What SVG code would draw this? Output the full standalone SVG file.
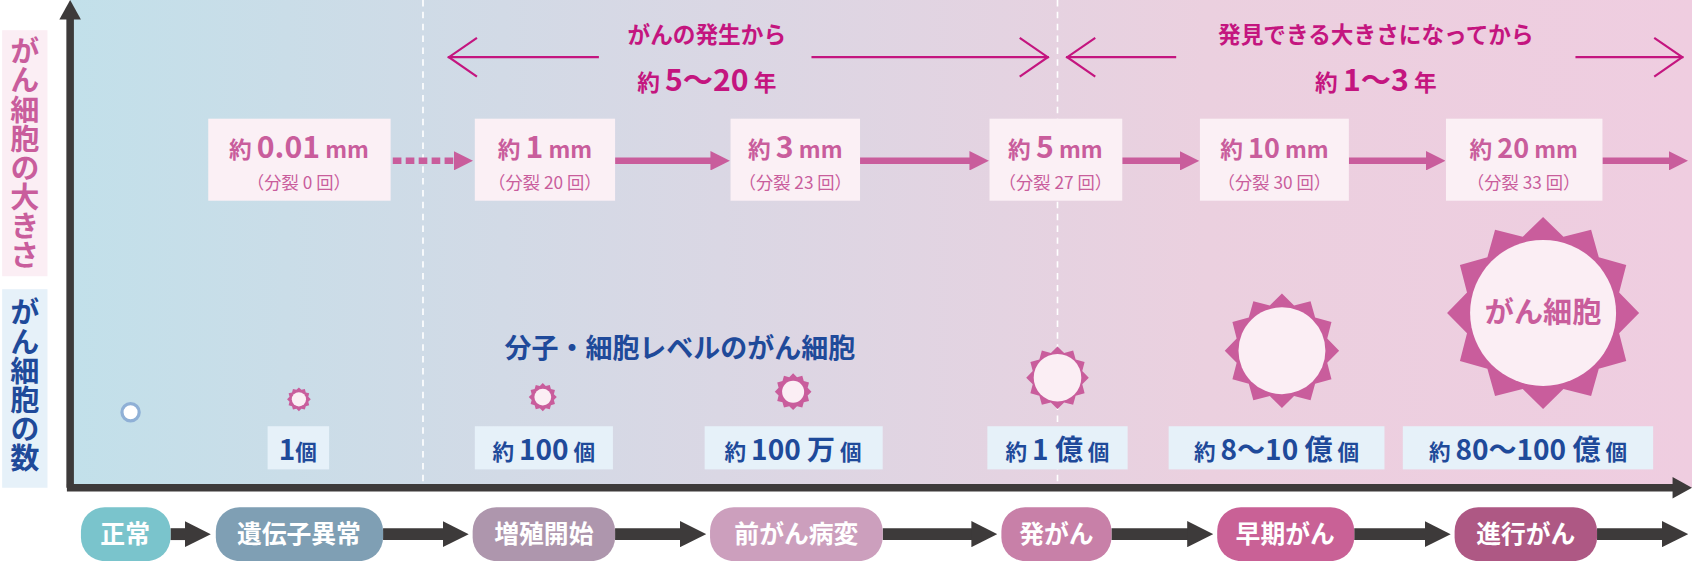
<svg xmlns="http://www.w3.org/2000/svg" width="1692" height="561" viewBox="0 0 1692 561">
<style>
text{font-family:"Noto Sans CJK JP","Liberation Serif",sans-serif;font-weight:bold}
.pk{fill:#c95d9c}.bl{fill:#1f4a9a}.mg{fill:#c4157f}
.sz{fill:#fbf0f5}.ct{fill:#e6f1f9}
.pill{rx:22px}
.pt{fill:#fff;font-size:23px;text-anchor:middle}
.sub{font-size:16px;font-weight:normal}
.ax{stroke:#3d3a3a;stroke-width:7;fill:none}
.flow{stroke:#3d3a3a;stroke-width:11;fill:none}
.szarr{stroke:#c95d9c;stroke-width:6;fill:none}
.top{stroke:#c4157f;stroke-width:2;fill:none}
</style>
<defs>
<linearGradient id="bg" x1="0" x2="1" y1="0" y2="0">
<stop offset="0" stop-color="#c2e0ea"/><stop offset="0.4" stop-color="#dad7e4"/><stop offset="0.7" stop-color="#ebd0df"/><stop offset="1" stop-color="#efcde0"/>
</linearGradient>
<polygon id="star" points="0,-1 .212,-.792 .5,-.866 .58,-.58 .866,-.5 .792,-.212 1,0 .792,.212 .866,.5 .58,.58 .5,.866 .212,.792 0,1 -.212,.792 -.5,.866 -.58,.58 -.866,.5 -.792,.212 -1,0 -.792,-.212 -.866,-.5 -.58,-.58 -.5,-.866 -.212,-.792"/>
<g id="sun"><use href="#star" fill="#c95d9c"/><circle r="0.76" fill="#fbeef4"/></g>
<g id="sunS"><use href="#star" fill="#c95d9c"/><circle r="0.6" fill="#fbeef4"/></g>
<marker id="ha" viewBox="0 0 10 10" refX="2" refY="5" markerWidth="3" markerHeight="3" orient="auto"><path d="M0,0L10,5L0,10z" fill="#c95d9c"/></marker>
<marker id="hd" viewBox="0 0 10 10" refX="2" refY="5" markerWidth="2.2" markerHeight="2.2" orient="auto"><path d="M0,0L10,5L0,10z" fill="#3d3a3a"/></marker>
<marker id="ho" viewBox="0 0 30 40" refX="29" refY="20" markerWidth="30" markerHeight="40" markerUnits="userSpaceOnUse" orient="auto-start-reverse"><path d="M2,2L28,20L2,38" fill="none" stroke="#c4157f" stroke-width="2"/></marker>
</defs>
<g transform="scale(1.07908)">
<rect x="65" y="0" width="1503" height="452" fill="url(#bg)"/>
<g stroke="#fff" stroke-width="1.5" stroke-dasharray="6 5"><line x1="392" y1="0" x2="392" y2="448"/><line x1="980" y1="0" x2="980" y2="448"/></g>
<g id="axes">
<line class="ax" x1="65" y1="452" x2="65" y2="16"/><path d="M55,18L65,0L75,18z" fill="#3d3a3a"/>
<line class="ax" x1="62" y1="452" x2="1552" y2="452"/><path d="M1550,442L1568,452L1550,462z" fill="#3d3a3a"/>
</g>
<g id="ylabels">
<rect x="2" y="28" width="42" height="228" fill="#fbeef4"/>
<text x="23" y="34" class="pk" font-size="27" style="writing-mode:vertical-rl">がん細胞の大きさ</text>
<rect x="2" y="268" width="42" height="184" fill="#e6f1f9"/>
<text x="23" y="276" class="bl" font-size="27" style="writing-mode:vertical-rl">がん細胞の数</text>
</g>
<g id="periods">
<line class="top" x1="415" y1="53" x2="555" y2="53" marker-start="url(#ho)"/>
<line class="top" x1="752" y1="53" x2="972" y2="53" marker-end="url(#ho)"/>
<text x="655" y="40" class="mg" font-size="21" text-anchor="middle">がんの発生から</text>
<text x="655" y="84" class="mg" font-size="21" text-anchor="middle">約 <tspan font-size="28">5～20</tspan> 年</text>
<line class="top" x1="988" y1="53" x2="1090" y2="53" marker-start="url(#ho)"/>
<line class="top" x1="1460" y1="53" x2="1560" y2="53" marker-end="url(#ho)"/>
<text x="1275" y="40" class="mg" font-size="21" text-anchor="middle">発見できる大きさになってから</text>
<text x="1275" y="84" class="mg" font-size="21" text-anchor="middle">約 <tspan font-size="28">1～3</tspan> 年</text>
</g>
<g id="connectors">
<line class="szarr" x1="364" y1="149" x2="424" y2="149" stroke-dasharray="8 4" stroke-width="8" marker-end="url(#ha)"/>
<line class="szarr" x1="570" y1="149" x2="662" y2="149" marker-end="url(#ha)"/>
<line class="szarr" x1="797" y1="149" x2="902" y2="149" marker-end="url(#ha)"/>
<line class="szarr" x1="1040" y1="149" x2="1097" y2="149" marker-end="url(#ha)"/>
<line class="szarr" x1="1250" y1="149" x2="1325" y2="149" marker-end="url(#ha)"/>
<line class="szarr" x1="1485" y1="149" x2="1550" y2="149" marker-end="url(#ha)"/>
<line class="flow" x1="158" y1="495" x2="176" y2="495" marker-end="url(#hd)"/>
<line class="flow" x1="355" y1="495" x2="415" y2="495" marker-end="url(#hd)"/>
<line class="flow" x1="570" y1="495" x2="635" y2="495" marker-end="url(#hd)"/>
<line class="flow" x1="818" y1="495" x2="905" y2="495" marker-end="url(#hd)"/>
<line class="flow" x1="1030" y1="495" x2="1105" y2="495" marker-end="url(#hd)"/>
<line class="flow" x1="1255" y1="495" x2="1325" y2="495" marker-end="url(#hd)"/>
<line class="flow" x1="1480" y1="495" x2="1545" y2="495" marker-end="url(#hd)"/>
</g>
<g id="sizes">
<g id="s1"><rect class="sz" x="193" y="110" width="169" height="76"/><text x="277" y="146" class="pk" text-anchor="middle" font-size="21">約 <tspan font-size="28">0.01</tspan> mm</text><text x="277" y="175" class="pk sub" text-anchor="middle">（分裂 0 回）</text></g>
<g id="s2"><rect class="sz" x="440" y="110" width="130" height="76"/><text x="505" y="146" class="pk" text-anchor="middle" font-size="21">約 <tspan font-size="28">1</tspan> mm</text><text x="505" y="175" class="pk sub" text-anchor="middle">（分裂 20 回）</text></g>
<g id="s3"><rect class="sz" x="677" y="110" width="120" height="76"/><text x="737" y="146" class="pk" text-anchor="middle" font-size="21">約 <tspan font-size="28">3</tspan> mm</text><text x="737" y="175" class="pk sub" text-anchor="middle">（分裂 23 回）</text></g>
<g id="s4"><rect class="sz" x="917" y="110" width="123" height="76"/><text x="978" y="146" class="pk" text-anchor="middle" font-size="21">約 <tspan font-size="28">5</tspan> mm</text><text x="978" y="175" class="pk sub" text-anchor="middle">（分裂 27 回）</text></g>
<g id="s5"><rect class="sz" x="1112" y="110" width="138" height="76"/><text x="1181" y="146" class="pk" text-anchor="middle" font-size="21">約 <tspan font-size="25">10</tspan> mm</text><text x="1181" y="175" class="pk sub" text-anchor="middle">（分裂 30 回）</text></g>
<g id="s6"><rect class="sz" x="1340" y="110" width="145" height="76"/><text x="1412" y="146" class="pk" text-anchor="middle" font-size="21">約 <tspan font-size="25">20</tspan> mm</text><text x="1412" y="175" class="pk sub" text-anchor="middle">（分裂 33 回）</text></g>
</g>
<g id="cells">
<circle cx="121" cy="382" r="8" fill="#fff" stroke="#8fb0d6" stroke-width="3"/>
<use href="#sunS" transform="translate(277,370) scale(11)"/>
<use href="#sunS" transform="translate(503,368) scale(13)"/>
<use href="#sunS" transform="translate(735,363) scale(17)"/>
<use href="#sun" transform="translate(980,350) scale(29)"/>
<use href="#sun" transform="translate(1188,325) scale(53)"/>
<use href="#sun" transform="translate(1430,290) scale(89)"/>
<text x="1430" y="299" class="pk" font-size="27" text-anchor="middle">がん細胞</text>
<text x="630" y="332" class="bl" font-size="25" text-anchor="middle">分子・細胞レベルのがん細胞</text>
</g>
<g id="counts" font-size="20">
<g id="c1"><rect class="ct" x="248" y="395" width="57" height="40"/><text x="276" y="426" class="bl" text-anchor="middle"><tspan font-size="26">1</tspan>個</text></g>
<g id="c2"><rect class="ct" x="440" y="395" width="128" height="40"/><text x="504" y="426" class="bl" text-anchor="middle">約 <tspan font-size="26">100</tspan> 個</text></g>
<g id="c3"><rect class="ct" x="653" y="395" width="165" height="40"/><text x="735" y="426" class="bl" text-anchor="middle">約 <tspan font-size="26">100 万</tspan> 個</text></g>
<g id="c4"><rect class="ct" x="915" y="395" width="130" height="40"/><text x="980" y="426" class="bl" text-anchor="middle">約 <tspan font-size="26">1 億</tspan> 個</text></g>
<g id="c5"><rect class="ct" x="1083" y="395" width="200" height="40"/><text x="1183" y="426" class="bl" text-anchor="middle">約 <tspan font-size="26">8～10 億</tspan> 個</text></g>
<g id="c6"><rect class="ct" x="1300" y="395" width="232" height="40"/><text x="1416" y="426" class="bl" text-anchor="middle">約 <tspan font-size="26">80～100 億</tspan> 個</text></g>
</g>
<g id="stages">
<g id="p1"><rect class="pill" x="75" y="470" width="83" height="50" fill="#7ac4cc"/><text class="pt" x="116" y="503">正常</text></g>
<g id="p2"><rect class="pill" x="200" y="470" width="155" height="50" fill="#7f9fb4"/><text class="pt" x="277" y="503">遺伝子異常</text></g>
<g id="p3"><rect class="pill" x="438" y="470" width="132" height="50" fill="#ae96ad"/><text class="pt" x="504" y="503">増殖開始</text></g>
<g id="p4"><rect class="pill" x="658" y="470" width="160" height="50" fill="#cc9fbd"/><text class="pt" x="738" y="503">前がん病変</text></g>
<g id="p5"><rect class="pill" x="928" y="470" width="102" height="50" fill="#c880a8"/><text class="pt" x="979" y="503">発がん</text></g>
<g id="p6"><rect class="pill" x="1128" y="470" width="127" height="50" fill="#c96196"/><text class="pt" x="1191" y="503">早期がん</text></g>
<g id="p7"><rect class="pill" x="1348" y="470" width="132" height="50" fill="#ae5884"/><text class="pt" x="1414" y="503">進行がん</text></g>
</g>
</g>
</svg>
